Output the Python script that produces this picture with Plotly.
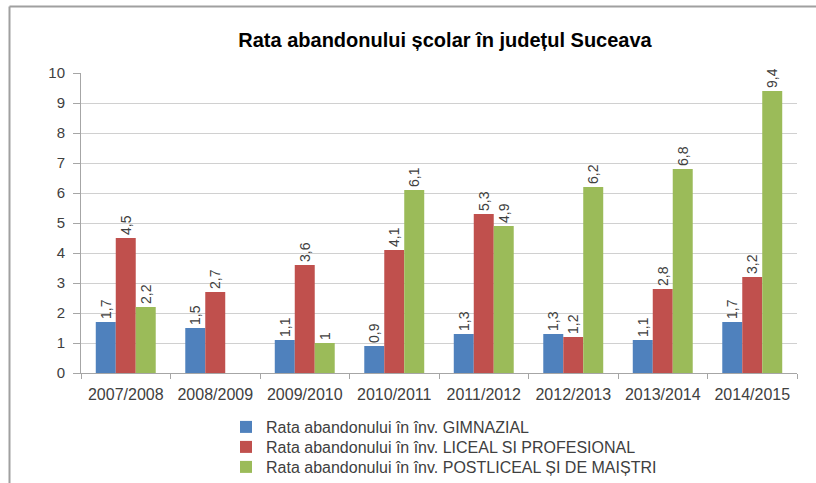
import plotly.graph_objects as go

categories = ["2007/2008", "2008/2009", "2009/2010", "2010/2011",
              "2011/2012", "2012/2013", "2013/2014", "2014/2015"]
gimnazial = [1.7, 1.5, 1.1, 0.9, 1.3, 1.3, 1.1, 1.7]
liceal = [4.5, 2.7, 3.6, 4.1, 5.3, 1.2, 2.8, 3.2]
postliceal = [2.2, None, 1.0, 6.1, 4.9, 6.2, 6.8, 9.4]

series = [
    ("Rata abandonului în înv. GIMNAZIAL", gimnazial, "#4F81BD"),
    ("Rata abandonului în înv. LICEAL SI PROFESIONAL", liceal, "#C0504D"),
    ("Rata abandonului în înv. POSTLICEAL ȘI DE MAIȘTRI", postliceal, "#9BBB59"),
]

FONT = "Liberation Sans Narrow, Arial Narrow, Liberation Sans, Arial, sans-serif"

def fmt(v):
    if v is None:
        return ""
    return f"{v:g}".replace(".", ",")

W, H = 816, 483
PL, PR, PT, PB = 81, 797, 73, 373  # plot area in pixels

def fx(x):
    return x / W

def fy(y):
    return 1 - y / H

legend_ids = ["legend", "legend2", "legend3"]
legend_ys = [427, 447, 467]

fig = go.Figure()
for (name, vals, col), lid in zip(series, legend_ids):
    fig.add_trace(go.Bar(
        x=categories, y=vals, name=name, legend=lid,
        marker=dict(color=col, line=dict(width=0)),
        text=[fmt(v) for v in vals],
        textposition="outside", textangle=-90,
        textfont=dict(size=14, color="#404040", family=FONT),
        cliponaxis=False,
    ))

legend_common = dict(orientation="v", x=fx(226), xanchor="left",
                     yanchor="middle",
                     font=dict(size=16, color="#404040", family=FONT),
                     itemwidth=30, bgcolor="rgba(0,0,0,0)")

fig.update_layout(
    width=W, height=H,
    margin=dict(l=0, r=0, t=0, b=0, autoexpand=False),
    paper_bgcolor="white", plot_bgcolor="white",
    barmode="group", bargap=0.33, bargroupgap=0,
    font=dict(family=FONT, color="#404040", size=15),
    title=dict(text="<b>Rata abandonului școlar în județul Suceava</b>",
               x=fx(445), xanchor="center", y=fy(40), yanchor="middle",
               font=dict(size=20, color="#000000", family=FONT)),
    xaxis=dict(domain=[fx(PL), fx(PR)], automargin=False,
               showline=True, linecolor="#a6a6a6", linewidth=1,
               ticks="outside", tickson="boundaries", ticklen=5,
               tickcolor="#a6a6a6", showgrid=False, ticklabelstandoff=7,
               tickfont=dict(size=16, color="#404040")),
    yaxis=dict(domain=[fy(PB), fy(PT)], automargin=False,
               range=[0, 10], dtick=1, showline=True, linecolor="#a6a6a6",
               linewidth=1, ticks="outside", ticklen=7, tickcolor="#a6a6a6",
               showgrid=True, gridcolor="#d0d0d0", gridwidth=1,
               ticklabelstandoff=5,
               zeroline=False, tickfont=dict(size=15, color="#404040")),
    legend=dict(legend_common, y=fy(legend_ys[0])),
    legend2=dict(legend_common, y=fy(legend_ys[1])),
    legend3=dict(legend_common, y=fy(legend_ys[2])),
    showlegend=True,
)

# partial outer chart border (top and left)
fig.add_shape(type="line", xref="paper", yref="paper",
              x0=fx(9.5), y0=fy(6.5), x1=fx(820), y1=fy(6.5),
              line=dict(color="#a0a0a0", width=2))
fig.add_shape(type="line", xref="paper", yref="paper",
              x0=fx(9.5), y0=fy(6.5), x1=fx(9.5), y1=fy(490),
              line=dict(color="#a0a0a0", width=2))

fig.write_html("out.html", config={"displayModeBar": False},
               post_script="document.body.style.margin='0';"
                           "document.body.style.overflow='hidden';")
